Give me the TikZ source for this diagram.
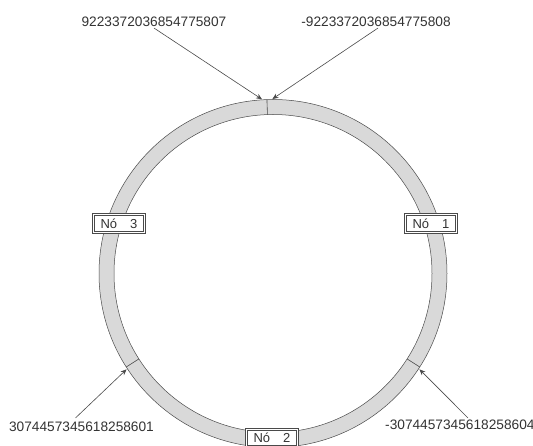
\documentclass[tikz,border=0pt]{standalone}
\usepackage{fontspec}
\setmainfont{Liberation Sans}
\usetikzlibrary{arrows.meta,calc}
\definecolor{ringgray}{HTML}{D9D9D9}
\definecolor{edgegray}{HTML}{4A4A4A}
\definecolor{txtgray}{HTML}{333333}

\begin{document}
\begin{tikzpicture}[x=1pt,y=1pt,>=Stealth,
    lbl/.style={text=txtgray,font=\fontsize{13.7}{16}\selectfont,inner sep=1pt},
    nodebox/.style={draw=edgegray,line width=0.8pt,fill=white,text=txtgray,
        font=\fontsize{13}{15}\selectfont,inner xsep=8pt,inner ysep=5pt},
    ptr/.style={draw=edgegray,line width=0.6pt,arrows={-Stealth[length=6pt,width=5pt]}}]
    \useasboundingbox (0,0) rectangle (533,446);
    \coordinate (c) at (273,172.5);
    \fill[ringgray,even odd rule] (c) circle (174) (c) circle (159);
    \draw[edgegray,line width=0.5pt] (c) circle (174) (c) circle (159);
    \foreach \a in {92,212.5,327.5}
        \draw[edgegray,line width=0.6pt] ($(c)+(\a:159)$) -- ($(c)+(\a:174)$);
    \coordinate (tmax) at ($(c)+(93.6:174.5)$);
    \coordinate (tmin) at ($(c)+(90.2:174.5)$);
    \coordinate (tthird) at ($(c)+(213.2:175)$);
    \coordinate (tnthird) at ($(c)+(326.8:175)$);
    \node[lbl] (lmax) at (154,424) {9223372036854775807};
    \node[lbl] (lmin) at (376,424) {-9223372036854775808};
    \node[lbl] (lthird) at (81.5,19) {3074457345618258601};
    \node[lbl,anchor=west] (lnthird) at (384,21) {-3074457345618258604};
    \draw[ptr] (lmax.south) -- (tmax);
    \draw[ptr] ([xshift=2pt]lmin.south) -- (tmin);
    \draw[ptr] ([xshift=-6pt,yshift=3pt]lthird.north) -- (tthird);
    \draw[ptr] ([xshift=84pt,yshift=1pt]lnthird.north west) -- (tnthird);
    \node[nodebox] (n1) at (431,222.5) {Nó\hspace{1em}1};
    \node[nodebox] (n3) at (119,222.5) {Nó\hspace{1em}3};
    \node[nodebox] (n2) at (272,8) {Nó\hspace{1em}2};
    \foreach \n in {n1,n2,n3}
        \draw[edgegray,line width=0.6pt] ([shift={(2.5pt,2.5pt)}]\n.south west) rectangle ([shift={(-2.5pt,-2.5pt)}]\n.north east);
\end{tikzpicture}
\end{document}
